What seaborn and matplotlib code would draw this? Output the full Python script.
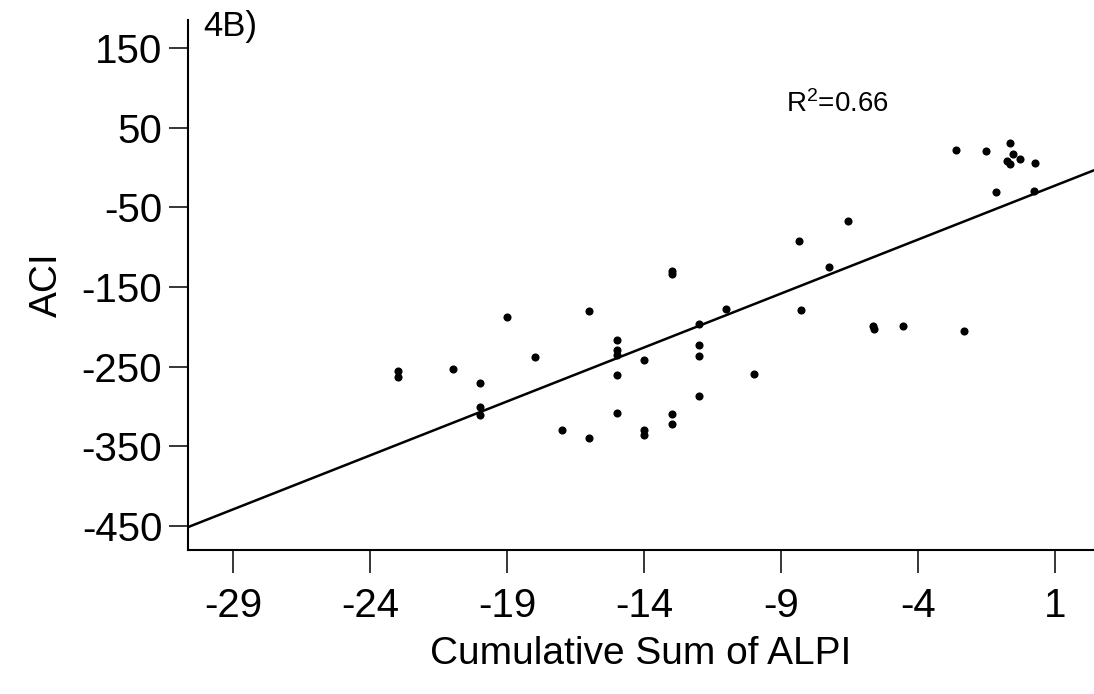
import matplotlib
matplotlib.use('Agg')
import matplotlib.pyplot as plt
import seaborn as sns
import numpy as np

# cumulative sum of ALPI vs ACI
alpi_cumsum = [-23, -23, -21, -20, -20, -20, -19, -18, -17, -16, -16,
               -15, -15, -15, -15, -15, -14, -14, -14, -13, -13, -13, -13,
               -12, -12, -12, -12, -11, -10, -8.34, -8.27, -7.26, -6.55,
               -5.66, -5.60, -4.57, -2.31, -2.63, -1.51, -0.63, -0.53, -0.75,
               -0.64, -0.27, 0.27, -1.15, 0.24]
aci = [-256, -263, -253, -270, -300, -310, -188, -238, -330, -180, -340,
       -217, -229, -235, -261, -308, -242, -329, -336, -130, -134, -309, -322,
       -197, -223, -237, -287, -177, -259, -92, -179, -125, -67,
       -199, -203, -199, -205, 22, 20, 31, 17, 8,
       4, 10, 6, -31, -29]

x_ticks = [-29, -24, -19, -14, -9, -4, 1]
y_ticks = [-450, -350, -250, -150, -50, 50, 150]
panel_label = '4B)'
r2_label = 'R$^2$=0.66'

sns.set_style('ticks')
plt.rcParams['font.family'] = ['Liberation Sans', 'DejaVu Sans']
plt.rcParams['axes.unicode_minus'] = False
plt.rcParams['mathtext.default'] = 'regular'
plt.rcParams['text.color'] = 'black'
plt.rcParams['axes.labelcolor'] = 'black'
plt.rcParams['xtick.color'] = 'black'
plt.rcParams['ytick.color'] = 'black'

fig = plt.figure(figsize=(10.94, 6.94), dpi=100)
ax = fig.add_axes([0.1718, 0.2075, 0.8282, 0.7637])
ax.set_xlim(-30.66, 2.42)
ax.set_ylim(-480, 185)

sns.regplot(x=np.array(alpi_cumsum), y=np.array(aci), ci=None, truncate=False, ax=ax,
            color='black',
            scatter_kws=dict(s=34, linewidths=0, alpha=1),
            line_kws=dict(lw=1.8))

ax.set_xlim(-30.66, 2.42)
ax.set_ylim(-480, 185)
ax.set_xticks(x_ticks)
ax.set_yticks(y_ticks)
ax.set_xticklabels([str(t) for t in x_ticks])
ax.set_yticklabels([str(t) for t in y_ticks])

ax.tick_params(axis='x', length=16.5, width=1.1, labelsize=29, pad=10, colors='black')
ax.tick_params(axis='y', length=13.5, width=1.1, labelsize=29, pad=5, colors='black')
for side in ['left', 'bottom']:
    ax.spines[side].set_linewidth(1.5)
    ax.spines[side].set_color('black')
sns.despine(ax=ax)

ax.set_xlabel('Cumulative Sum of ALPI', fontsize=28, labelpad=8, color='black')
ax.set_ylabel('ACI', fontsize=28, labelpad=12, color='black')

ax.text(0.0166, 0.97, panel_label, transform=ax.transAxes, fontsize=25, va='baseline', color='black')
ax.text(0.66, 0.826, r2_label, transform=ax.transAxes, fontsize=20, va='baseline', color='black')

fig.savefig('out.png', dpi=100)
